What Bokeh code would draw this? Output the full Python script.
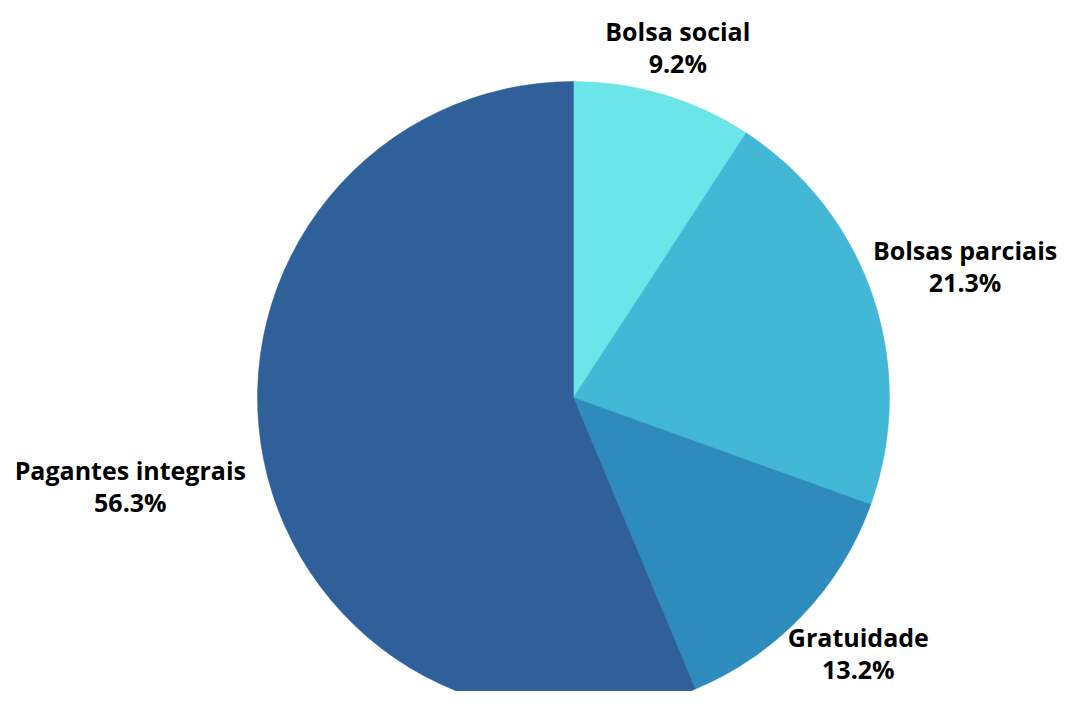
import numpy as np
from bokeh.plotting import figure
from bokeh.models import ColumnDataSource, Range1d
from bokeh.core.properties import value
from bokeh.embed import file_html
from bokeh.resources import INLINE

categories = ["Bolsa social", "Bolsas parciais", "Gratuidade", "Pagantes integrais"]
shares = [9.2, 21.3, 13.2, 56.3]
colors = ["#6AE5E8", "#43B8D6", "#2E8CBC", "#2F6099"]

# label layout (radial distance from centre, plus small horizontal nudge)
label_dist = [366, 413, 371, 452]
label_dx = [0, 0, 16, 0]

W, H = 1061, 691
cx, cy, R = 573, H - 397, 316

vals = np.array(shares)
frac = vals / vals.sum()
cum = np.concatenate([[0], np.cumsum(frac)])
start = np.pi / 2 - cum[:-1] * 2 * np.pi
end = np.pi / 2 - cum[1:] * 2 * np.pi
mid = (start + end) / 2

src = ColumnDataSource(dict(start=start, end=end, color=colors))

p = figure(width=W, height=H, output_backend="svg", toolbar_location=None,
           x_range=Range1d(0, W), y_range=Range1d(0, H), min_border=0)
p.axis.visible = False
p.grid.visible = False
p.outline_line_color = None
p.background_fill_color = "white"

p.wedge(x=cx, y=cy, radius=R, start_angle="start", end_angle="end",
        direction="clock", fill_color="color", line_color="color", line_width=0.5,
        source=src)

lx = cx + np.array(label_dist) * np.cos(mid) + np.array(label_dx)
ly = cy + np.array(label_dist) * np.sin(mid)
gap = 16
pct = [f"{v:.1f}%" for v in shares]
lsrc = ColumnDataSource(dict(x=lx, y1=ly + gap, y2=ly - gap, name=categories, pct=pct))
for ycol, tcol in (("y1", "name"), ("y2", "pct")):
    p.text(x="x", y=ycol, text=tcol, source=lsrc, text_align="center",
           text_baseline="middle", text_font=value("Open Sans"),
           text_font_style="bold", text_font_size="25px", text_color="#000000")

open("out.html", "w").write(file_html(p, INLINE))
